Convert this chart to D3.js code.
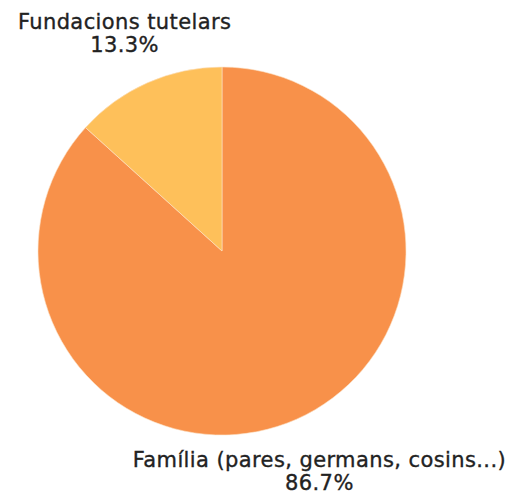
<!DOCTYPE html>
<html lang="ca">
<head>
    <meta charset="UTF-8">
    <title>Pie</title>
    <script src="https://cdnjs.cloudflare.com/ajax/libs/d3/7.8.5/d3.min.js"></script>
    <style>
        body { margin: 0; background: #fff; }
        .label { font-family: "DejaVu Sans", sans-serif; font-size: 21px; letter-spacing: 0.4px;
                 fill: #222; stroke: #222; stroke-width: 0.35px; }
    </style>
</head>
<body>
<div id="chart"></div>
<script>
    var categories = ["Família (pares, germans, cosins...)", "Fundacions tutelars"];
    var values = [86.7, 13.3];
    var percentLabels = ["86.7%", "13.3%"];
    var colors = ["#f8914a", "#fec05a"];

    var width = 522, height = 499;
    var cx = 222, cy = 251, radius = 184;

    var svg = d3.select("#chart")
        .append("svg")
        .attr("width", width)
        .attr("height", height)
        .append("g")
        .attr("transform", "translate(" + cx + "," + cy + ")");

    var pie = d3.pie().sort(null).value(function (d) { return d; });
    var arcs = pie(values);

    var arc = d3.arc().innerRadius(0).outerRadius(radius);
    var labelArc = d3.arc().innerRadius(240).outerRadius(240);

    svg.selectAll("path")
        .data(arcs)
        .enter().append("path")
        .attr("d", arc)
        .attr("fill", function (d, i) { return colors[i]; })
        .attr("stroke", "#fbe3c8")
        .attr("stroke-width", 0.6);

    var labels = svg.selectAll("text.label")
        .data(arcs)
        .enter().append("text")
        .attr("class", "label")
        .attr("text-anchor", "middle")
        .attr("transform", function (d) { return "translate(" + labelArc.centroid(d) + ")"; });

    labels.append("tspan")
        .attr("x", 0)
        .attr("y", -3)
        .text(function (d, i) { return categories[i]; });

    labels.append("tspan")
        .attr("x", 0)
        .attr("y", 20)
        .text(function (d, i) { return percentLabels[i]; });
</script>
</body>
</html>
